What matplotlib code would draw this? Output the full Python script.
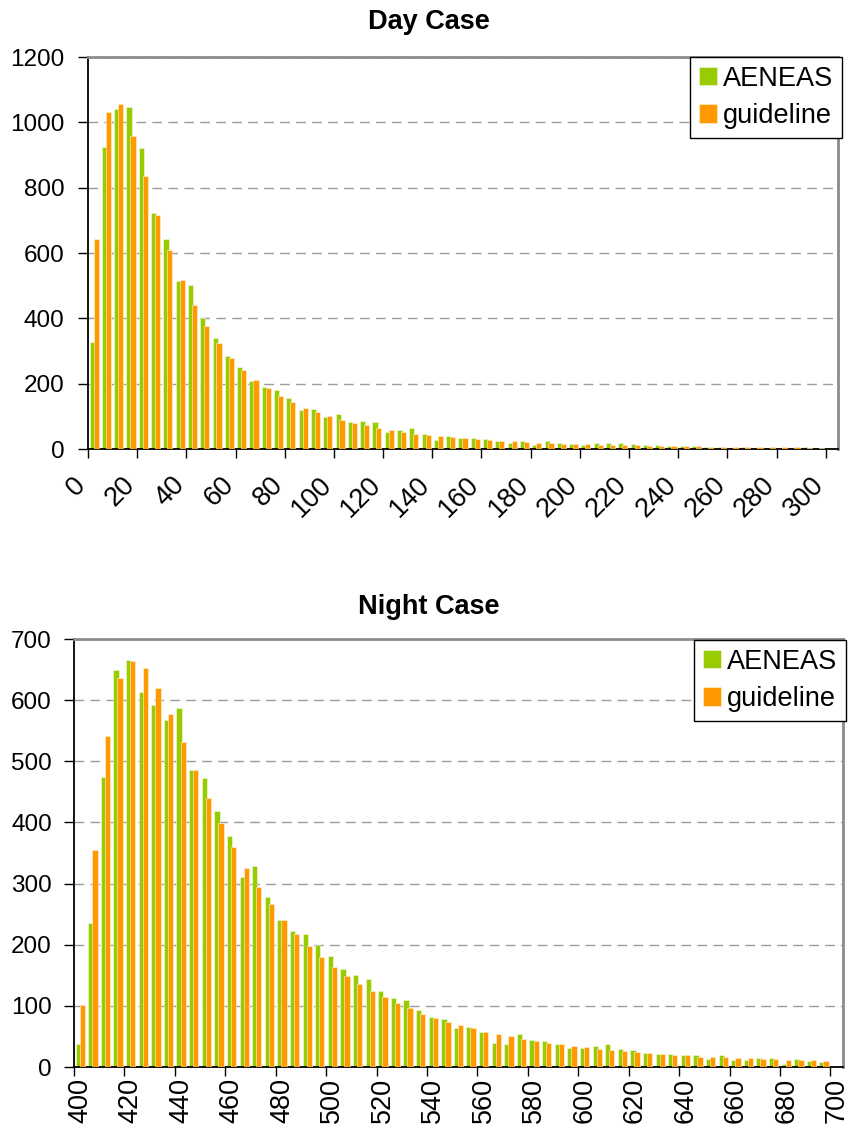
import numpy as np
import matplotlib
matplotlib.use("Agg")
import matplotlib.pyplot as plt
from matplotlib.transforms import ScaledTranslation

# ----------------------------
# Data (counts per 5-unit bin)
# ----------------------------
series_names = ["AENEAS", "guideline"]

day_bins = list(range(0, 305, 5))
day_aeneas = [
    327, 926, 1041, 1047, 921, 723, 643, 513, 503, 401,
    340, 285, 251, 208, 189, 181, 155, 118, 121, 97,
    106, 84, 85, 83, 51, 57, 63, 46, 29, 40,
    35, 34, 31, 23, 18, 23, 13, 23, 19, 14,
    12, 17, 19, 18, 16, 12, 13, 8, 10, 8,
    7, 7, 2, 5, 4, 4, 4, 4, 6, 3, 0,
]
day_guideline = [
    643, 1032, 1057, 959, 835, 715, 608, 518, 441, 377,
    325, 280, 243, 211, 187, 163, 145, 127, 112, 100,
    90, 80, 72, 65, 58, 53, 47, 44, 39, 36,
    33, 30, 28, 25, 23, 22, 19, 18, 16, 16,
    15, 13, 12, 11, 11, 10, 9, 10, 8, 8,
    7, 7, 7, 7, 6, 6, 6, 6, 4, 4, 0,
]

night_bins = list(range(400, 705, 5))
night_aeneas = [
    38, 235, 474, 649, 666, 614, 592, 567, 587, 486,
    473, 419, 378, 311, 328, 278, 241, 223, 217, 199,
    182, 161, 150, 144, 125, 113, 110, 94, 81, 78,
    63, 66, 57, 40, 38, 54, 44, 42, 38, 31,
    31, 34, 38, 30, 28, 23, 21, 21, 20, 20,
    13, 20, 12, 12, 14, 14, 5, 13, 10, 8, 0,
]
night_guideline = [
    101, 355, 542, 636, 664, 653, 620, 577, 531, 485,
    440, 399, 360, 326, 295, 266, 241, 218, 198, 180,
    164, 149, 136, 124, 114, 104, 96, 87, 80, 74,
    68, 63, 58, 54, 50, 46, 43, 40, 37, 34,
    32, 30, 28, 26, 25, 23, 21, 20, 19, 17,
    17, 16, 15, 14, 13, 13, 12, 11, 11, 10, 0,
]

# ----------------------------
# Style
# ----------------------------
plt.rcParams.update({
    "font.family": ["Liberation Sans", "DejaVu Sans"],
    "font.size": 17.5,
})

colors = {"AENEAS": "#99cc00", "guideline": "#ff9900"}
FRAME_GRAY = "#8c8c8c"
BIG = 19.5

W, H = 850, 1133
fig = plt.figure(figsize=(W / 100, H / 100), dpi=100)


def px_axes(left, top, right, bottom):
    return fig.add_axes([left / W, 1 - bottom / H, (right - left) / W, (bottom - top) / H])


def draw_panel(ax, bins, s1, s2, ymax, ystep, title, title_y, rot, lab_pad, ypad, legend_box):
    x = np.arange(len(bins))
    bw = 0.42
    ax.bar(x - 0.16, s1, width=bw, color=colors["AENEAS"], edgecolor="#f4f9e0",
           linewidth=0.4, label=series_names[0], zorder=2)
    ax.bar(x + 0.16, s2, width=bw, color=colors["guideline"], edgecolor="#fff3e0",
           linewidth=0.4, label=series_names[1], zorder=3)

    ax.set_yticks(np.arange(0, ymax + 1, ystep))
    ax.tick_params(axis="y", direction="out", length=7, width=1.0, pad=ypad)

    # ticks between categories every 4 bins
    ax.set_xticks(np.arange(-0.5, len(bins), 4))
    ax.set_xticklabels([])
    ax.tick_params(axis="x", which="major", direction="out", length=6.5, width=1.0)
    if rot == 45:
        # slanted labels hung just left of each tick
        off = ScaledTranslation(-6 / 100, -32 / 100, fig.dpi_scale_trans)
        tr = ax.get_xaxis_transform() + off
        for pos, b in zip(x[::4] - 0.5, bins[::4]):
            ax.text(pos, 0, str(b), transform=tr, rotation=45, ha="right", va="center",
                    rotation_mode="anchor", fontsize=BIG, clip_on=False)
    else:
        ax.set_xticks(x[::4], minor=True)
        ax.set_xticklabels([str(b) for b in bins[::4]], minor=True, rotation=90,
                           ha="center", va="top", fontsize=BIG)
        ax.tick_params(axis="x", which="minor", length=0, pad=lab_pad)

    ax.set_xlim(-0.5, len(bins) - 0.5)
    ax.set_ylim(0, ymax)

    ax.grid(axis="y", linestyle=(0, (7, 4.5)), color="#9c9c9c", linewidth=1.0, zorder=0)
    ax.set_axisbelow(True)

    for side in ["left", "bottom"]:
        ax.spines[side].set_color("black")
        ax.spines[side].set_linewidth(1.3)
    for side in ["top", "right"]:
        ax.spines[side].set_color(FRAME_GRAY)
        ax.spines[side].set_linewidth(2.0)

    fig.text(429 / W, 1 - title_y / H, title, ha="center", va="center",
             fontsize=BIG, fontweight="bold")

    leg = ax.legend(loc="upper right", bbox_to_anchor=(legend_box[0] / W, 1 - legend_box[1] / H),
                    bbox_transform=fig.transFigure, borderaxespad=0, fancybox=False,
                    framealpha=1, edgecolor="black", handlelength=0.68, handleheight=0.68,
                    handletextpad=0.22, borderpad=0.32, labelspacing=0.42, fontsize=BIG)
    leg.get_frame().set_linewidth(1.0)
    leg.set_zorder(5)


ax_day = px_axes(88, 57, 838, 449)
draw_panel(ax_day, day_bins, day_aeneas, day_guideline, 1200, 200,
           "Day Case", 22, 45, 18, 10, (842, 57))

ax_night = px_axes(74, 639, 843, 1067)
draw_panel(ax_night, night_bins, night_aeneas, night_guideline, 700, 100,
           "Night Case", 607, 90, 8, 9, (846, 640))

fig.savefig("out.png", dpi=100)
